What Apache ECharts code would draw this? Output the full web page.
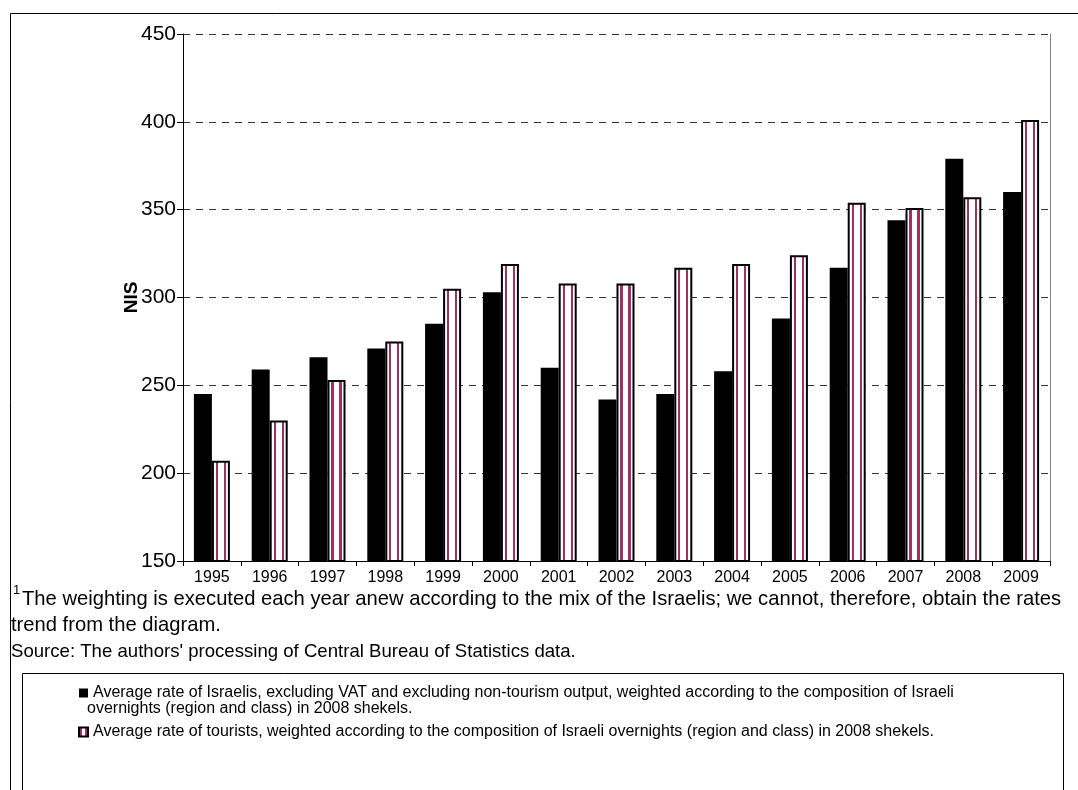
<!DOCTYPE html>
<html>
<head>
<meta charset="utf-8">
<script src="https://cdn.jsdelivr.net/npm/echarts@6/dist/echarts.min.js"></script>
<style>
  html, body { margin: 0; padding: 0; background: #fff; }
  #chart { width: 1078px; height: 790px; }
</style>
</head>
<body>
<div id="chart"></div>
<script>
// data
const years = ['1995', '1996', '1997', '1998', '1999', '2000', '2001', '2002', '2003', '2004', '2005', '2006', '2007', '2008', '2009'];
const israelis = [245, 259, 266, 271, 285, 303, 260, 242, 245, 258, 288, 317, 344, 379, 360];
const tourists = [207, 230, 253, 275, 305, 319, 308, 308, 317, 319, 324, 354, 351, 357, 401];
const yTicks = [150, 200, 250, 300, 350, 400, 450];

// legend texts; the first one wraps onto a second line in the original
const nameIsr = 'Average rate of Israelis, excluding VAT and excluding non-tourism output, weighted according to the composition of Israeli overnights (region and class) in 2008 shekels.';
const nameIsrLine1 = 'Average rate of Israelis, excluding VAT and excluding non-tourism output, weighted according to the composition of Israeli';
const nameIsrLine2 = 'overnights (region and class) in 2008 shekels.';
const nameTour = 'Average rate of tourists, weighted according to the composition of Israeli overnights (region and class) in 2008 shekels.';

const FONT = '"Liberation Sans", Arial, sans-serif';
const PLUM = '#993366';

// white bar with two vertical plum stripes
const stripes = new echarts.graphic.LinearGradient(0, 0, 1, 0, [
  { offset: 0, color: '#fff' },
  { offset: 0.22, color: '#fff' },
  { offset: 0.22, color: PLUM },
  { offset: 0.34, color: PLUM },
  { offset: 0.34, color: '#fff' },
  { offset: 0.66, color: '#fff' },
  { offset: 0.66, color: PLUM },
  { offset: 0.78, color: PLUM },
  { offset: 0.78, color: '#fff' },
  { offset: 1, color: '#fff' }
]);

const chart = echarts.init(document.getElementById('chart'));

chart.setOption({
  animation: false,
  textStyle: { fontFamily: FONT, color: '#000' },
  grid: { left: 183, right: 28, top: 34, bottom: 229 },
  legend: {
    orient: 'vertical',
    left: 73,
    top: 680,
    itemWidth: 9,
    itemHeight: 9,
    itemGap: 23,
    icon: 'rect',
    selectedMode: false,
    textStyle: { fontFamily: FONT, fontSize: 16, color: '#000' },
    formatter: name => (name === nameIsr ? nameIsrLine1 : name),
    data: [nameIsr, nameTour]
  },
  xAxis: {
    type: 'category',
    data: years,
    axisLine: { lineStyle: { color: '#000', width: 1 } },
    axisTick: { show: true, length: 5, interval: 0, lineStyle: { color: '#000' } },
    axisLabel: { interval: 0, fontSize: 16, margin: 9, color: '#000', fontFamily: FONT }
  },
  yAxis: [
    {
      type: 'value',
      min: yTicks[0],
      max: yTicks[yTicks.length - 1],
      interval: 50,
      name: 'NIS',
      nameLocation: 'middle',
      nameGap: 42,
      nameMoveOverlap: false,
      nameTextStyle: { fontSize: 19, fontWeight: 'bold', color: '#000', fontFamily: FONT },
      axisLine: { show: true, lineStyle: { color: '#000', width: 1 } },
      axisTick: { show: true, length: 6, lineStyle: { color: '#000' } },
      axisLabel: { fontSize: 21, margin: 7, color: '#000', fontFamily: FONT },
      splitLine: { show: true, lineStyle: { color: '#333', width: 1, type: [7, 6] } }
    },
    {
      // right border of the plot area
      type: 'value',
      position: 'right',
      min: yTicks[0],
      max: yTicks[yTicks.length - 1],
      interval: 50,
      axisLine: { show: true, lineStyle: { color: '#808080', width: 1 } },
      axisTick: { show: false },
      axisLabel: { show: false },
      splitLine: { show: false }
    }
  ],
  series: [
    {
      name: nameIsr,
      type: 'bar',
      data: israelis,
      barWidth: 18,
      barGap: '0%',
      itemStyle: { color: '#000', borderColor: '#000', borderWidth: 0 }
    },
    {
      name: nameTour,
      type: 'bar',
      data: tourists,
      barWidth: 18,
      barGap: '0%',
      itemStyle: { color: stripes, borderColor: '#000', borderWidth: 2 }
    }
  ],
  graphic: [
    {
      type: 'rect',
      silent: true,
      shape: { x: 10.5, y: 13.5, width: 1100, height: 820 },
      style: { fill: null, stroke: '#000', lineWidth: 1 }
    },
    {
      type: 'text',
      left: 13,
      top: 584,
      style: { text: '1', fontSize: 13, fontFamily: FONT, fill: '#000' }
    },
    {
      type: 'text',
      left: 22,
      top: 589,
      style: {
        text: 'The weighting is executed each year anew according to the mix of the Israelis; we cannot, therefore, obtain the rates',
        fontSize: 20.2, fontFamily: FONT, fill: '#000'
      }
    },
    {
      type: 'text',
      left: 11,
      top: 615,
      style: { text: 'trend from the diagram.', fontSize: 20.2, fontFamily: FONT, fill: '#000' }
    },
    {
      type: 'text',
      left: 11,
      top: 642,
      style: { text: "Source: The authors' processing of Central Bureau of Statistics data.", fontSize: 18.6, fontFamily: FONT, fill: '#000' }
    },
    {
      type: 'rect',
      silent: true,
      shape: { x: 22.5, y: 673.5, width: 1041, height: 200 },
      style: { fill: null, stroke: '#000', lineWidth: 1 }
    },
    {
      // wrapped second line of the first legend entry
      type: 'text',
      left: 87,
      top: 701,
      style: { text: nameIsrLine2, fontSize: 16, fontFamily: FONT, fill: '#000' }
    }
  ]
});

window.addEventListener('resize', () => chart.resize());
</script>
</body>
</html>
